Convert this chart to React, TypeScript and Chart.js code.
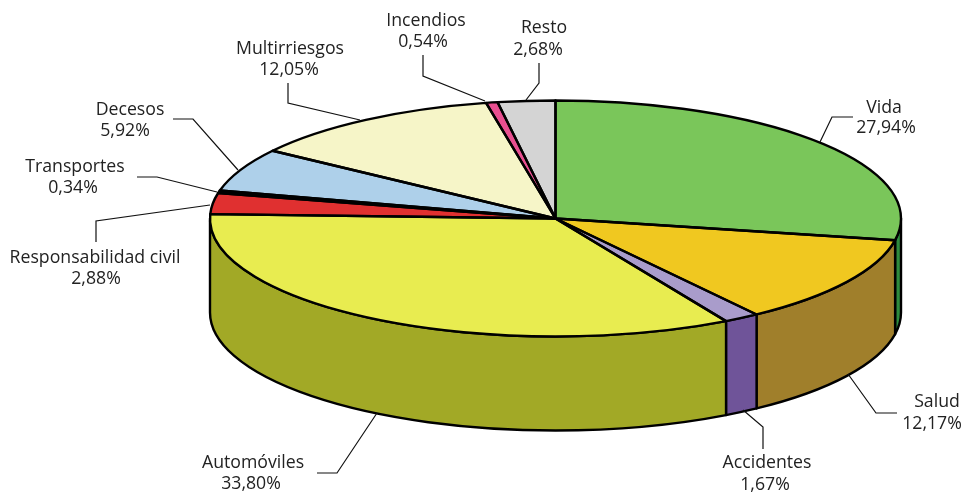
import React, { useEffect, useRef } from "react";
import { Chart, registerables } from "chart.js";

Chart.register(...registerables);

const categories = ["Vida", "Salud", "Accidentes", "Automóviles", "Responsabilidad civil", "Transportes", "Decesos", "Multirriesgos", "Incendios", "Resto"];
const values = [27.94, 12.17, 1.67, 33.8, 2.88, 0.34, 5.92, 12.05, 0.54, 2.68];
const valueLabels = ["27,94%", "12,17%", "1,67%", "33,80%", "2,88%", "0,34%", "5,92%", "12,05%", "0,54%", "2,68%"];
const topColors = ["#7AC65A", "#F0C820", "#A99CCB", "#E8EC50", "#E03030", "#111111", "#AED0EA", "#F6F5C8", "#E84F90", "#D4D4D4"];
const sideColors = ["#2E8B3E", "#A07F2B", "#6F5499", "#A2A926", "#8F1F1F", "#111111", "#6F8CA8", "#A8A77A", "#9A2F60", "#8E8E8E"];

// Page layout of the flattened pie
const PIE = { cx: 555.5, cy: 218.5, rx: 345.5, ry: 118, depth: 94 };
// Label layout: [centre x line 1, centre y line 1, centre x line 2, centre y line 2]
const labelPos = [
  [884, 108, 886, 128],
  [937, 402, 932, 424],
  [767, 463, 765, 485],
  [253, 463, 251, 484],
  [95, 258, 96, 279],
  [75, 167, 73, 188],
  [130, 110, 125, 131],
  [290, 49, 289, 70],
  [426, 21, 423, 42],
  [544, 28, 538, 50],
];
// Leader line polylines
const leaders = [
  [[820, 142], [832, 117], [853, 117]],
  [[848, 374], [876, 413], [897, 413]],
  [[743, 410], [763, 427], [763, 449]],
  [[377, 413], [337, 473], [317, 473]],
  [[210, 205], [96, 221], [96, 242]],
  [[217, 192], [157, 177], [137, 177]],
  [[238, 170], [193, 119], [173, 119]],
  [[360, 120], [288, 103], [288, 83]],
  [[485, 101], [423, 76], [423, 55]],
  [[526, 100], [539, 83], [539, 63]],
];

const FONT = '17.7px "Open Sans"';

const pie3d = {
  id: "pie3d",
  beforeDatasetsDraw(chart: any) {
    const ctx = chart.ctx;
    const arcs = chart.getDatasetMeta(0).data;
    const { cx, cy, rx, ry, depth } = PIE;
    // Side walls, only on the front half of the ellipse (canvas angles 0..PI)
    arcs.forEach((arc: any, i: number) => {
      const ranges = [[0, Math.PI], [2 * Math.PI, 3 * Math.PI]];
      ranges.forEach(([lo, hi]) => {
        const a = Math.max(arc.startAngle, lo);
        const b = Math.min(arc.endAngle, hi);
        if (b <= a) return;
        ctx.save();
        ctx.beginPath();
        ctx.ellipse(cx, cy, rx, ry, 0, a, b);
        ctx.ellipse(cx, cy + depth, rx, ry, 0, b, a, true);
        ctx.closePath();
        ctx.fillStyle = sideColors[i];
        ctx.fill();
        ctx.lineWidth = 2.4;
        ctx.strokeStyle = "#000";
        ctx.lineJoin = "round";
        ctx.stroke();
        ctx.restore();
      });
    });
    // Flatten the library's round pie to the top-face ellipse
    const first = arcs[0];
    const R = first.outerRadius;
    ctx.save();
    ctx.translate(cx, cy);
    ctx.scale(rx / R, ry / R);
    ctx.translate(-first.x, -first.y);
  },
  afterDatasetsDraw(chart: any) {
    const ctx = chart.ctx;
    ctx.restore();
    const arcs = chart.getDatasetMeta(0).data;
    const { cx, cy, rx, ry } = PIE;
    ctx.save();
    ctx.lineWidth = 2.4;
    ctx.strokeStyle = "#000";
    ctx.lineJoin = "round";
    arcs.forEach((arc: any) => {
      ctx.beginPath();
      ctx.moveTo(cx, cy);
      ctx.ellipse(cx, cy, rx, ry, 0, arc.startAngle, arc.endAngle);
      ctx.closePath();
      ctx.stroke();
    });
    ctx.restore();
  },
  afterDraw(chart: any) {
    const ctx = chart.ctx;
    ctx.save();
    ctx.strokeStyle = "#111";
    ctx.lineWidth = 1.2;
    leaders.forEach((pts) => {
      ctx.beginPath();
      pts.forEach(([x, y], k) => (k ? ctx.lineTo(x, y) : ctx.moveTo(x, y)));
      ctx.stroke();
    });
    ctx.fillStyle = "#222";
    ctx.font = FONT;
    ctx.textAlign = "center";
    ctx.textBaseline = "middle";
    categories.forEach((name, i) => {
      const [x1, y1, x2, y2] = labelPos[i];
      ctx.fillText(name, x1, y1);
      ctx.fillText(valueLabels[i], x2, y2);
    });
    ctx.restore();
  },
};

export default function App() {
  const ref = useRef<HTMLCanvasElement>(null);
  useEffect(() => {
    const chart = new Chart(ref.current as HTMLCanvasElement, {
      type: "pie",
      data: {
        labels: categories,
        datasets: [{ data: values, backgroundColor: topColors, borderWidth: 0, clip: false } as any],
      },
      options: {
        responsive: false,
        animation: false,
        layout: { padding: 0 },
        plugins: { legend: { display: false }, tooltip: { enabled: false } },
      },
      plugins: [pie3d],
    } as any);
    return () => chart.destroy();
  }, []);
  return (
    <div style={{ position: "absolute", left: 0, top: 0, width: 965, height: 492, background: "#fff" }}>
      <canvas ref={ref} width={965} height={492} style={{ display: "block" }} />
    </div>
  );
}
